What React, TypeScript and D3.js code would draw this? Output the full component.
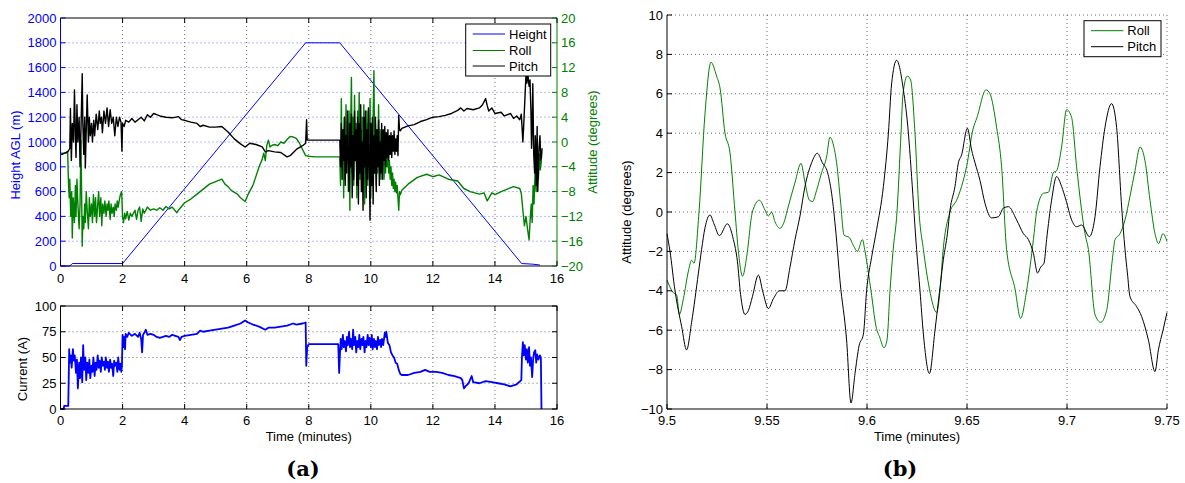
import React from 'react';
import * as d3 from 'd3';

type P = [number, number];

// ---------- Panel (a) top: height (m) and attitude (deg) vs time (min)
const heightData: P[] = [[0, 0], [0.3, 0], [0.38, 20], [2.0, 20], [7.9, 1800], [9.0, 1800], [14.86, 20], [15.2, 15], [15.45, 8]];

const rollA: P[] = [
  [0, -1.8], [0.2, -1.8], [0.23, -1.5], [0.26, -7], [0.28, -9], [0.3, -6], [0.33, -12], [0.36, -8], [0.38, -15.5], [0.41, -9],
  [0.45, -13], [0.48, -7], [0.5, -12], [0.53, -6], [0.56, -10], [0.6, -14], [0.63, -10], [0.66, 0.3], [0.68, -8], [0.7, -16.8],
  [0.72, -12], [0.75, -14], [0.78, -10], [0.8, -13], [0.83, -8], [0.86, -11], [0.9, -14], [0.93, -9], [0.96, -12], [1.0, -10],
  [1.03, -13], [1.06, -8.5], [1.1, -12], [1.13, -9], [1.16, -13], [1.2, -10], [1.23, -8], [1.26, -12], [1.3, -9], [1.33, -13.5],
  [1.36, -10], [1.4, -11.5], [1.43, -9.5], [1.47, -12], [1.5, -10], [1.53, -11], [1.56, -9.5], [1.6, -12.5], [1.63, -10], [1.66, -11.5],
  [1.7, -10.5], [1.73, -12], [1.76, -10], [1.8, -11], [1.83, -9.5], [1.86, -10.5], [1.9, -9.2], [1.93, -8.5], [1.97, -8], [2.0, -12],
  [2.03, -13], [2.07, -11.5], [2.1, -12.4], [2.15, -11.2], [2.2, -12.6], [2.25, -11.5], [2.3, -12], [2.4, -11], [2.45, -12.5], [2.5, -11],
  [2.55, -10.5], [2.6, -12.8], [2.65, -10.8], [2.7, -11.5], [2.8, -10.5], [2.9, -11], [3.0, -10.8], [3.1, -11], [3.2, -10.6], [3.3, -11],
  [3.4, -10.4], [3.5, -10.8], [3.6, -10.5], [3.75, -11.4], [3.8, -11], [3.9, -10.4], [4.0, -9.8], [4.2, -9.2], [4.4, -8.4], [4.6, -7.6],
  [4.8, -6.8], [5.0, -6.4], [5.1, -6.2], [5.2, -6.0], [5.3, -6.8], [5.4, -7.2], [5.5, -7.8], [5.7, -8.4], [5.8, -9.0], [5.95, -9.6],
  [6.05, -8.4], [6.2, -7.0], [6.3, -5.5], [6.4, -4.0], [6.5, -2.8], [6.55, -1.8], [6.6, -3], [6.65, -0.5], [6.7, 0.3], [6.75, -0.8],
  [6.8, -0.6], [6.9, -0.4], [7.0, -0.6], [7.1, 0], [7.2, -0.2], [7.3, 0.4], [7.4, 0.9], [7.5, 0.8], [7.6, 0.6], [7.7, -0.2],
  [7.8, -1.2], [7.9, -2.2], [8.0, -2.3], [8.2, -2.4], [8.95, -2.4],
  [9.0, -2.4], [9.025, -7], [9.05, 7], [9.075, -4], [9.1, 2], [9.125, -9], [9.15, 4], [9.175, -6], [9.2, 6], [9.225, -3],
  [9.25, 3], [9.275, -8], [9.3, 5], [9.325, -11], [9.35, 2], [9.375, 10.4], [9.4, -5], [9.425, 4], [9.45, -7], [9.475, 7.5],
  [9.5, -2], [9.525, 3], [9.55, -9], [9.575, 5], [9.6, -4], [9.625, 8], [9.65, -6], [9.675, 2], [9.7, -8], [9.725, 4],
  [9.75, -3], [9.775, 6], [9.8, -10], [9.825, 1], [9.85, -5], [9.875, 5], [9.9, -7], [9.925, 3], [9.95, -4], [9.975, 7],
  [10.0, -9], [10.025, 2], [10.05, -5], [10.075, 4], [10.1, 11.5], [10.125, -3], [10.15, 3], [10.175, -7], [10.2, 1], [10.225, -5],
  [10.25, 6], [10.275, -3], [10.3, 2], [10.325, -6], [10.35, 0], [10.375, -4], [10.4, 1], [10.425, -6], [10.45, -2], [10.475, -5],
  [10.5, -1], [10.525, -4], [10.55, -2], [10.575, -5], [10.6, -3], [10.625, -6], [10.65, -4], [10.675, -7], [10.7, -5], [10.725, -7.5],
  [10.75, -6], [10.775, -8], [10.8, -6.5], [10.825, -8.2], [10.85, -7], [10.875, -9], [10.9, -11], [10.925, -8], [10.95, -8.5],
  [11.0, -7.8], [11.2, -6.8], [11.5, -5.7], [11.8, -5.2], [12.0, -5.6], [12.2, -5.3], [12.5, -6], [12.8, -6.3], [13.0, -7.5], [13.2, -8],
  [13.5, -8.4], [13.65, -8.2], [13.75, -9.5], [13.9, -8.2], [14.0, -8.5], [14.2, -8], [14.4, -7.6], [14.6, -7.2], [14.8, -7.5], [14.85, -8.3],
  [14.9, -11], [14.95, -13.5], [15.0, -12], [15.05, -14], [15.1, -15.8], [15.13, -13], [15.17, -10], [15.2, -13], [15.23, -7], [15.26, -10],
  [15.3, -4], [15.33, -8], [15.36, 0.5], [15.4, -6], [15.43, -2], [15.46, -4.5], [15.5, -3],
];

const pitchA: P[] = [
  [0, -2], [0.05, -2], [0.25, -1.5], [0.3, -1], [0.32, 5.4], [0.35, -3], [0.38, 3], [0.42, 0], [0.45, 8.4], [0.48, 1],
  [0.5, -2.5], [0.53, 6], [0.56, 0], [0.6, 4], [0.63, -4], [0.66, 2], [0.7, 11], [0.72, 3], [0.75, -2], [0.78, 4],
  [0.8, -4.2], [0.83, 2], [0.86, 7.6], [0.9, 0], [0.93, 4], [0.96, 1], [1.0, 3], [1.03, 0], [1.07, 3.5], [1.1, 1],
  [1.15, 4.5], [1.2, 2], [1.25, 5], [1.28, 3], [1.32, 4], [1.35, 1.5], [1.4, 5], [1.45, 3], [1.5, 5.5], [1.55, 2.5],
  [1.6, 5.2], [1.65, 3], [1.7, 4], [1.75, 1], [1.8, 4], [1.85, 2.5], [1.9, 4], [1.95, 3.2], [1.98, -1.5], [2.0, 3],
  [2.05, 2.5], [2.1, 3.5], [2.2, 3.2], [2.3, 3.8], [2.4, 3.2], [2.5, 3.6], [2.6, 4], [2.7, 3.4], [2.8, 4.4], [2.9, 4],
  [3.0, 4.6], [3.1, 4.4], [3.2, 4.2], [3.4, 4.0], [3.6, 3.9], [3.8, 4.1], [3.9, 3.6], [4.0, 3.5], [4.2, 3.2], [4.4, 3.0],
  [4.5, 2.5], [4.6, 2.7], [4.8, 2.4], [5.0, 2.4], [5.2, 2.5], [5.4, 1.6], [5.6, 0.5], [5.8, -0.3], [5.95, -0.8], [6.1, -0.2],
  [6.3, -0.4], [6.5, -0.8], [6.6, -1.6], [6.7, -1.4], [6.9, -1.6], [7.1, -1.7], [7.3, -2.4], [7.4, -2.2], [7.6, -1.2], [7.8, -0.6],
  [7.9, -0.2], [7.93, 3.6], [7.95, 0.3], [8.0, 0.3], [8.95, 0.3],
  [9.0, 0.3], [9.025, -4], [9.05, 3], [9.075, -6], [9.1, 2], [9.125, -3], [9.15, 4], [9.175, -7], [9.2, 1], [9.225, -5],
  [9.25, 5], [9.275, -2], [9.3, -8], [9.325, 3], [9.35, -4], [9.375, 4.5], [9.4, -9], [9.425, 1], [9.45, -6], [9.475, 5],
  [9.5, -3], [9.525, 2], [9.55, -7], [9.575, 4], [9.6, -10], [9.625, 3], [9.65, -5], [9.675, 6], [9.7, -8], [9.725, 0],
  [9.75, -11], [9.775, 4], [9.8, -4], [9.825, 5], [9.85, -9], [9.875, 2], [9.9, -6], [9.925, 5.5], [9.95, -3], [9.975, -12.6],
  [10.0, 3], [10.025, -7], [10.05, 4], [10.075, -10], [10.1, 1], [10.125, -5], [10.15, 4], [10.175, -8], [10.2, 2], [10.225, -4],
  [10.25, 3.5], [10.275, -7], [10.3, 0], [10.325, -5], [10.35, 3], [10.375, -6], [10.4, 2], [10.425, -3], [10.45, 2.5], [10.475, -4],
  [10.5, 1.5], [10.525, -2.5], [10.55, 2], [10.575, -3], [10.6, 1], [10.625, -2], [10.65, 1.5], [10.675, -2.5], [10.7, 1], [10.725, -1.5],
  [10.75, 1.8], [10.775, -2], [10.8, 0.5], [10.825, -1.5], [10.85, 1], [10.875, -2.2], [10.9, 4.3], [10.925, 2.0], [10.95, 1.8],
  [11.0, 2.2], [11.2, 2.6], [11.4, 2.8], [11.6, 3.3], [11.8, 3.6], [12.0, 4.0], [12.2, 4.1], [12.4, 4.3], [12.6, 4.6], [12.8, 5.1],
  [12.9, 5.5], [13.0, 5.0], [13.1, 5.4], [13.3, 5.2], [13.5, 5.5], [13.6, 6.0], [13.7, 7.0], [13.75, 5.9], [13.8, 5.0], [13.9, 5.5],
  [14.0, 4.6], [14.2, 4.8], [14.3, 4.2], [14.5, 4.6], [14.6, 3.8], [14.7, 4.2], [14.8, 3.6], [14.85, 4.5], [14.9, 0.0], [14.93, 3],
  [15.0, 10.8], [15.03, 9.5], [15.06, 11], [15.1, 9], [15.13, 10], [15.16, 5], [15.18, -1], [15.2, 2], [15.22, 9.4], [15.25, -2],
  [15.28, -5], [15.3, 1], [15.33, -7], [15.36, 2.5], [15.38, -8], [15.42, -1], [15.45, 1], [15.48, -3], [15.5, -2.5], [15.52, -1],
];

// ---------- Panel (a) bottom: current (A)
const currentData: P[] = [
  [0, 0], [0.1, 0], [0.12, 3], [0.25, 3], [0.28, 58], [0.3, 45], [0.33, 52], [0.36, 40], [0.4, 58], [0.43, 47],
  [0.46, 52], [0.5, 35], [0.53, 48], [0.56, 20], [0.6, 45], [0.63, 30], [0.66, 50], [0.7, 26], [0.73, 62], [0.76, 38],
  [0.8, 50], [0.83, 28], [0.86, 45], [0.9, 35], [0.93, 48], [0.96, 30], [1.0, 42], [1.03, 36], [1.06, 50], [1.1, 32],
  [1.13, 45], [1.16, 38], [1.2, 52], [1.23, 40], [1.26, 47], [1.3, 36], [1.33, 50], [1.36, 42], [1.4, 46], [1.43, 38],
  [1.46, 50], [1.5, 40], [1.53, 46], [1.56, 36], [1.6, 48], [1.63, 40], [1.66, 44], [1.7, 32], [1.73, 47], [1.76, 42],
  [1.8, 45], [1.83, 36], [1.86, 50], [1.9, 38], [1.93, 44], [1.96, 36], [1.98, 42], [2.0, 72], [2.03, 60], [2.05, 70],
  [2.08, 58], [2.1, 73], [2.15, 70], [2.2, 74], [2.3, 71], [2.4, 73], [2.5, 70], [2.55, 74], [2.6, 68], [2.63, 55],
  [2.66, 72], [2.7, 74], [2.75, 77], [2.8, 72], [2.9, 73], [3.0, 72], [3.1, 70], [3.2, 69], [3.3, 70], [3.4, 71],
  [3.5, 70], [3.6, 72], [3.7, 71], [3.8, 70], [3.85, 67], [3.9, 70], [4.0, 71], [4.2, 72], [4.4, 73], [4.5, 76],
  [4.6, 75], [4.8, 76], [5.0, 77], [5.2, 78], [5.4, 79], [5.6, 81], [5.8, 83], [5.95, 86], [6.05, 84], [6.2, 82],
  [6.4, 80], [6.6, 77], [6.7, 79], [6.9, 79], [7.1, 80], [7.3, 81], [7.5, 83], [7.6, 82], [7.8, 83], [7.9, 84],
  [7.92, 42], [7.95, 60], [8.0, 63], [8.5, 63], [8.95, 63], [8.98, 35], [9.0, 50], [9.03, 68], [9.06, 58], [9.1, 72],
  [9.13, 60], [9.16, 66], [9.2, 56], [9.23, 70], [9.26, 62], [9.3, 75], [9.33, 60], [9.36, 68], [9.4, 58], [9.43, 77],
  [9.46, 62], [9.5, 70], [9.53, 55], [9.56, 66], [9.6, 60], [9.63, 72], [9.66, 58], [9.7, 68], [9.73, 62], [9.76, 70],
  [9.8, 55], [9.83, 66], [9.86, 60], [9.9, 72], [9.93, 62], [9.96, 69], [10.0, 60], [10.03, 72], [10.06, 58], [10.1, 68],
  [10.13, 60], [10.16, 66], [10.2, 58], [10.23, 70], [10.26, 62], [10.3, 67], [10.33, 60], [10.36, 68], [10.4, 62], [10.45, 74],
  [10.48, 70], [10.5, 75], [10.55, 64], [10.6, 62], [10.65, 55], [10.7, 52], [10.75, 50], [10.8, 45], [10.85, 44], [10.9, 38],
  [10.95, 34], [11.0, 33], [11.2, 33], [11.4, 35], [11.6, 36], [11.75, 38], [11.9, 36], [12.1, 36], [12.3, 35], [12.5, 33],
  [12.7, 32], [12.9, 30], [12.95, 28], [13.0, 20], [13.05, 22], [13.15, 25], [13.25, 32], [13.3, 26], [13.5, 25], [13.7, 27],
  [13.9, 26], [14.1, 25], [14.3, 24], [14.5, 22], [14.7, 24], [14.85, 28], [14.87, 50], [14.9, 65], [14.93, 52], [14.96, 62],
  [15.0, 48], [15.03, 58], [15.06, 45], [15.1, 60], [15.13, 42], [15.16, 50], [15.2, 31], [15.23, 48], [15.26, 55], [15.3, 57],
  [15.33, 45], [15.36, 53], [15.4, 48], [15.45, 52], [15.48, 50], [15.5, 0],
];

// ---------- Panel (b): roll and pitch (deg) vs time (min)
const rollB: P[] = [
  [9.5, -3.46], [9.5032, -4.1], [9.5048, -4.2], [9.5062, -5.2], [9.5082, -4.4], [9.5107, -3.0], [9.5123, -2.45], [9.5135, -2.6],
  [9.516, 0], [9.519, 5], [9.522, 7.6], [9.5248, 6.9], [9.5265, 6.3], [9.529, 4.0], [9.5315, 3.0], [9.534, 0], [9.5357, -2],
  [9.5378, -3.26], [9.5398, -2.3], [9.5427, 0], [9.5462, 0.6], [9.549, 0.1], [9.5507, -0.2], [9.5523, 0.0], [9.554, -0.5],
  [9.5565, -0.83], [9.5582, -0.6], [9.5607, 0.3], [9.564, 1.5], [9.567, 2.47], [9.569, 1.5], [9.5712, 0.6], [9.5728, 0.53],
  [9.5748, 1.1], [9.5773, 2.0], [9.5798, 2.8], [9.5815, 3.8], [9.5832, 3.4], [9.5848, 2.5], [9.5868, 0.5], [9.5885, -1.17],
  [9.5912, -1.3], [9.5932, -1.7], [9.5952, -2.0], [9.5977, -1.4], [9.599, -2.0], [9.602, -4.0], [9.6045, -5.8], [9.6065, -6.4],
  [9.6085, -6.9], [9.61, -6.5], [9.6115, -4], [9.613, -2], [9.615, 0], [9.617, 4], [9.618, 6], [9.6202, 6.9], [9.6218, 6.7],
  [9.624, 4], [9.626, 0], [9.6282, -1.9], [9.6312, -3.9], [9.6348, -5.1], [9.6365, -4], [9.638, -2], [9.6415, 0], [9.6448, 0.6],
  [9.6473, 1.3], [9.6498, 2.3], [9.653, 4.2], [9.655, 4.8], [9.6595, 6.2], [9.6615, 6.0], [9.6648, 4.3], [9.6673, 2.3],
  [9.6698, -1.9], [9.674, -3.9], [9.6768, -5.4], [9.6798, -4], [9.6832, -1.4], [9.6848, 0], [9.6882, 0.95], [9.6907, 1.0],
  [9.6932, 2], [9.6948, 2.1], [9.6973, 3.3], [9.6998, 5.2], [9.7023, 4.8], [9.7048, 2.3], [9.709, -1.1], [9.7107, -1.9],
  [9.714, -5.2], [9.7168, -5.6], [9.7198, -5], [9.7228, -2.3], [9.724, -1.4], [9.7265, -1.1], [9.729, -0.4], [9.7315, 0.8],
  [9.734, 2.1], [9.7365, 3.3], [9.739, 2.6], [9.7415, 0.6], [9.744, -1.1], [9.7458, -1.6], [9.748, -1.1], [9.75, -1.5],
];

const pitchB: P[] = [
  [9.5, -1.1], [9.5015, -2], [9.504, -4], [9.5073, -5.8], [9.5098, -7.0], [9.5123, -5.6], [9.5157, -3.1], [9.5173, -1.9],
  [9.519, -0.8], [9.5215, -0.15], [9.5235, -0.6], [9.5262, -1.2], [9.5302, -0.6], [9.5332, -1.4], [9.5352, -2.5], [9.5368, -4.2],
  [9.539, -5.2], [9.5407, -5.0], [9.5427, -4.3], [9.5457, -3.2], [9.5478, -4], [9.5507, -4.9], [9.5532, -4.4], [9.5562, -4],
  [9.559, -4], [9.5615, -2.8], [9.564, -1.4], [9.5665, -0.2], [9.569, 1.3], [9.5723, 2.5], [9.5752, 2.98], [9.5777, 2.5],
  [9.5803, 2.0], [9.5823, 0.95], [9.5845, -1.1], [9.5865, -3.5], [9.5898, -6.5], [9.592, -9.7], [9.594, -8.2], [9.596, -6.8],
  [9.5982, -6.2], [9.5998, -4], [9.6023, -2.3], [9.6048, -0.9], [9.6082, 1.3], [9.6107, 4], [9.6123, 6.5], [9.6148, 7.7],
  [9.6182, 6.2], [9.6207, 4], [9.6223, 1.8], [9.6248, -1.9], [9.6265, -4], [9.6282, -6.2], [9.6312, -8.2], [9.634, -6],
  [9.6362, -4.1], [9.6382, -2.4], [9.6402, -1.1], [9.6415, 0.1], [9.644, 1.3], [9.6457, 2.5], [9.6473, 2.9], [9.6502, 4.25],
  [9.6523, 3.15], [9.654, 2.5], [9.6565, 1.6], [9.659, 0.44], [9.6623, -0.3], [9.6657, -0.24], [9.6682, 0.2], [9.6707, 0.27],
  [9.6748, -0.4], [9.6782, -1.1], [9.6807, -1.4], [9.6832, -2.1], [9.6853, -3.1], [9.6868, -2.8], [9.6885, -2.6], [9.6898, -1.4],
  [9.6923, 0.6], [9.6948, 1.8], [9.6973, 1.3], [9.6995, 0.6], [9.7023, -0.4], [9.7048, -0.75], [9.7073, -0.66], [9.7112, -1.25],
  [9.714, -0.24], [9.7165, 2.3], [9.719, 4.3], [9.7223, 5.5], [9.7248, 4.3], [9.7273, 0.3], [9.729, -1.9], [9.7302, -3.1],
  [9.7315, -4.3], [9.7348, -4.8], [9.7373, -5.3], [9.7407, -6.5], [9.744, -8.1], [9.7457, -7], [9.748, -6], [9.75, -5.1],
];

// ---------- ticks and labels
const xTicksA = [0, 2, 4, 6, 8, 10, 12, 14, 16];
const heightTicks = [0, 200, 400, 600, 800, 1000, 1200, 1400, 1600, 1800, 2000];
const attTicksA = [-20, -16, -12, -8, -4, 0, 4, 8, 12, 16, 20];
const currentTicks = [0, 25, 50, 75, 100];
const xTicksB = [9.5, 9.55, 9.6, 9.65, 9.7, 9.75];
const attTicksB = [-10, -8, -6, -4, -2, 0, 2, 4, 6, 8, 10];
const legendA = ['Height', 'Roll', 'Pitch'];
const legendB = ['Roll', 'Pitch'];

const BLUE = '#0000ff';
const GREEN = '#008000';
const BLACK = '#000000';
const FONT = "'Liberation Sans', Arial, Helvetica, sans-serif";
const fmt = (v: number) => (v < 0 ? '\u2212' + String(Math.abs(v)) : String(v));

export default function App() {
  const A = { l: 60.5, r: 557, t: 18, b: 266 };
  const C = { l: 60.5, r: 557, t: 306, b: 409 };
  const B = { l: 667, r: 1167, t: 15, b: 409 };

  const xA = d3.scaleLinear().domain([0, 16]).range([A.l, A.r]);
  const yH = d3.scaleLinear().domain([0, 2000]).range([A.b, A.t]);
  const yAtt = d3.scaleLinear().domain([-20, 20]).range([A.b, A.t]);
  const xC = d3.scaleLinear().domain([0, 16]).range([C.l, C.r]);
  const yC = d3.scaleLinear().domain([0, 100]).range([C.b, C.t]);
  const xB = d3.scaleLinear().domain([9.5, 9.75]).range([B.l, B.r]);
  const yB = d3.scaleLinear().domain([-10, 10]).range([B.b, B.t]);

  const lineH = d3.line<P>().x(d => xA(d[0])).y(d => yH(d[1]));
  const lineAtt = d3.line<P>().x(d => xA(d[0])).y(d => yAtt(d[1]));
  const lineC = d3.line<P>().x(d => xC(d[0])).y(d => yC(d[1]));
  const lineB = d3.line<P>().x(d => xB(d[0])).y(d => yB(d[1])).curve(d3.curveMonotoneX);

  const dot = '1,3';
  const tick = 5;

  return (
    <svg width={1185} height={483} style={{ position: 'absolute', left: 0, top: 0, background: '#fff' }}
      fontFamily={FONT}>
      <rect x={0} y={0} width={1185} height={483} fill="#fff" />

      {/* ===== Panel a top ===== */}
      {xTicksA.slice(1, -1).map(v => (
        <line key={'gxa' + v} x1={xA(v)} x2={xA(v)} y1={A.t} y2={A.b} stroke="#444" strokeWidth={0.8} strokeDasharray={dot} />
      ))}
      {heightTicks.slice(1, -1).map(v => (
        <line key={'gya' + v} x1={A.l} x2={A.r} y1={yH(v)} y2={yH(v)} stroke="#5050ff" strokeWidth={0.8} strokeDasharray={dot} />
      ))}
      <path d={lineH(heightData) || ''} fill="none" stroke={BLUE} strokeWidth={1} />
      <path d={lineAtt(rollA) || ''} fill="none" stroke={GREEN} strokeWidth={1.4} strokeLinejoin="round" />
      <path d={lineAtt(pitchA) || ''} fill="none" stroke={BLACK} strokeWidth={1.4} strokeLinejoin="round" />
      <line x1={A.l} x2={A.r} y1={A.t} y2={A.t} stroke={BLACK} strokeWidth={1} />
      <line x1={A.l} x2={A.r} y1={A.b} y2={A.b} stroke={BLACK} strokeWidth={1} />
      <line x1={A.l} x2={A.l} y1={A.t} y2={A.b} stroke={BLUE} strokeWidth={1} />
      <line x1={A.r} x2={A.r} y1={A.t} y2={A.b} stroke={GREEN} strokeWidth={1} />
      {heightTicks.map(v => (
        <g key={'ty' + v}>
          <line x1={A.l} x2={A.l + tick} y1={yH(v)} y2={yH(v)} stroke={BLUE} />
          <text x={A.l - 4} y={yH(v)} dy="0.35em" textAnchor="end" fontSize={13} fill={BLUE}>{fmt(v)}</text>
        </g>
      ))}
      {attTicksA.map(v => (
        <g key={'tr' + v}>
          <line x1={A.r - tick} x2={A.r} y1={yAtt(v)} y2={yAtt(v)} stroke={GREEN} />
          <text x={A.r + 4} y={yAtt(v)} dy="0.35em" textAnchor="start" fontSize={13} fill={GREEN}>{fmt(v)}</text>
        </g>
      ))}
      {xTicksA.map(v => (
        <g key={'tx' + v}>
          <line x1={xA(v)} x2={xA(v)} y1={A.b} y2={A.b - tick} stroke={BLACK} />
          <line x1={xA(v)} x2={xA(v)} y1={A.t} y2={A.t + tick} stroke={BLACK} />
          <text x={xA(v)} y={A.b + 17} textAnchor="middle" fontSize={13} fill={BLACK}>{fmt(v)}</text>
        </g>
      ))}
      <text transform={`translate(20,${155}) rotate(-90)`} textAnchor="middle" fontSize={13} fill={BLUE}>Height AGL (m)</text>
      <text transform={`translate(597,${142}) rotate(-90)`} textAnchor="middle" fontSize={13} fill={GREEN}>Attitude (degrees)</text>
      <rect x={465.7} y={24} width={85} height={52} fill="#fff" stroke={BLACK} strokeWidth={1} />
      {legendA.map((name, i) => {
        const yy = [34, 50.5, 66][i];
        const col = [BLUE, GREEN, BLACK][i];
        return (
          <g key={'la' + name}>
            <line x1={472.7} x2={505} y1={yy} y2={yy} stroke={col} strokeWidth={1} />
            <text x={509} y={yy} dy="0.35em" fontSize={13} fill={BLACK}>{name}</text>
          </g>
        );
      })}

      {/* ===== Panel a bottom ===== */}
      {xTicksA.slice(1, -1).map(v => (
        <line key={'gxc' + v} x1={xC(v)} x2={xC(v)} y1={C.t} y2={C.b} stroke="#444" strokeWidth={0.8} strokeDasharray={dot} />
      ))}
      {currentTicks.slice(1, -1).map(v => (
        <line key={'gyc' + v} x1={C.l} x2={C.r} y1={yC(v)} y2={yC(v)} stroke="#444" strokeWidth={0.8} strokeDasharray={dot} />
      ))}
      <path d={lineC(currentData) || ''} fill="none" stroke={BLUE} strokeWidth={1.8} strokeLinejoin="round" />
      <rect x={C.l} y={C.t} width={C.r - C.l} height={C.b - C.t} fill="none" stroke={BLACK} strokeWidth={1} />
      {currentTicks.map(v => (
        <g key={'tyc' + v}>
          <line x1={C.l} x2={C.l + tick} y1={yC(v)} y2={yC(v)} stroke={BLACK} />
          <line x1={C.r - tick} x2={C.r} y1={yC(v)} y2={yC(v)} stroke={BLACK} />
          <text x={C.l - 4} y={yC(v)} dy="0.35em" textAnchor="end" fontSize={13} fill={BLACK}>{fmt(v)}</text>
        </g>
      ))}
      {xTicksA.map(v => (
        <g key={'txc' + v}>
          <line x1={xC(v)} x2={xC(v)} y1={C.b} y2={C.b - tick} stroke={BLACK} />
          <line x1={xC(v)} x2={xC(v)} y1={C.t} y2={C.t + tick} stroke={BLACK} />
          <text x={xC(v)} y={C.b + 16} textAnchor="middle" fontSize={13} fill={BLACK}>{fmt(v)}</text>
        </g>
      ))}
      <text transform={`translate(27,${369}) rotate(-90)`} textAnchor="middle" fontSize={13} fill={BLACK}>Current (A)</text>
      <text x={(C.l + C.r) / 2} y={441} textAnchor="middle" fontSize={13} fill={BLACK}>Time (minutes)</text>
      <text x={303} y={476} textAnchor="middle" fontSize={21} fontWeight="bold" fontFamily="'DejaVu Serif', serif" fill={BLACK}>(a)</text>

      {/* ===== Panel b ===== */}
      {xTicksB.slice(1).map(v => (
        <line key={'gxb' + v} x1={xB(v)} x2={xB(v)} y1={B.t} y2={B.b} stroke="#444" strokeWidth={0.8} strokeDasharray={dot} />
      ))}
      {attTicksB.slice(1).map(v => (
        <line key={'gyb' + v} x1={B.l} x2={B.r} y1={yB(v)} y2={yB(v)} stroke="#444" strokeWidth={0.8} strokeDasharray={dot} />
      ))}
      <path d={lineB(rollB) || ''} fill="none" stroke={GREEN} strokeWidth={1} />
      <path d={lineB(pitchB) || ''} fill="none" stroke={BLACK} strokeWidth={1} />
      <line x1={B.l} x2={B.l} y1={B.t} y2={B.b} stroke={BLACK} strokeWidth={1} />
      <line x1={B.l} x2={B.r} y1={B.b} y2={B.b} stroke={BLACK} strokeWidth={1} />
      {attTicksB.map(v => (
        <g key={'tyb' + v}>
          <line x1={B.l} x2={B.l + tick} y1={yB(v)} y2={yB(v)} stroke={BLACK} />
          <text x={B.l - 4} y={yB(v)} dy="0.35em" textAnchor="end" fontSize={13} fill={BLACK}>{fmt(v)}</text>
        </g>
      ))}
      {xTicksB.map(v => (
        <g key={'txb' + v}>
          <line x1={xB(v)} x2={xB(v)} y1={B.b} y2={B.b - tick} stroke={BLACK} />
          <text x={xB(v)} y={B.b + 16} textAnchor="middle" fontSize={13} fill={BLACK}>{fmt(v)}</text>
        </g>
      ))}
      <text transform={`translate(631,${212}) rotate(-90)`} textAnchor="middle" fontSize={13} fill={BLACK}>Attitude (degrees)</text>
      <text x={(B.l + B.r) / 2} y={441} textAnchor="middle" fontSize={13} fill={BLACK}>Time (minutes)</text>
      <rect x={1084} y={20.7} width={77} height={36} fill="#fff" stroke={BLACK} strokeWidth={1} />
      {legendB.map((name, i) => {
        const yy = [30.7, 46.7][i];
        const col = [GREEN, BLACK][i];
        return (
          <g key={'lb' + name}>
            <line x1={1091} x2={1123.3} y1={yy} y2={yy} stroke={col} strokeWidth={1} />
            <text x={1127.3} y={yy} dy="0.35em" fontSize={13} fill={BLACK}>{name}</text>
          </g>
        );
      })}
      <text x={900} y={476} textAnchor="middle" fontSize={21} fontWeight="bold" fontFamily="'DejaVu Serif', serif" fill={BLACK}>(b)</text>
    </svg>
  );
}
